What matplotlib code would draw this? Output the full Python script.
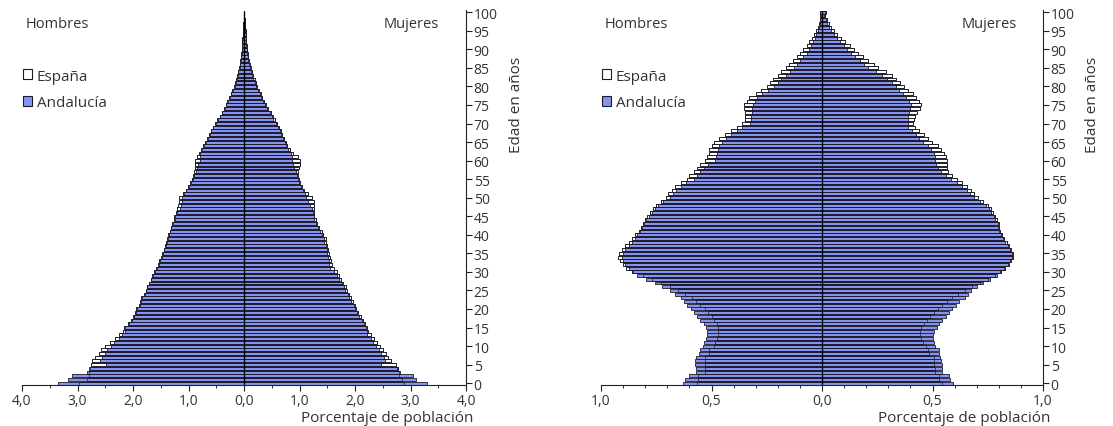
import matplotlib.pyplot as plt
from matplotlib.patches import Patch
from matplotlib.ticker import MultipleLocator, FuncFormatter

plt.rcParams['font.family'] = ['Open Sans', 'DejaVu Sans']

edades = list(range(101))

# grafico izquierdo: porcentaje por edad simple
esp_h1 = [2.97, 2.82, 2.80, 2.80, 2.78, 2.76, 2.74, 2.68, 2.62, 2.57,
          2.50, 2.42, 2.33, 2.25, 2.18, 2.16, 2.09, 2.03, 2.00, 1.96,
          1.94, 1.90, 1.87, 1.86, 1.81, 1.77, 1.75, 1.72, 1.68, 1.65,
          1.63, 1.58, 1.55, 1.53, 1.50, 1.47, 1.45, 1.43, 1.41, 1.39,
          1.37, 1.34, 1.32, 1.30, 1.27, 1.26, 1.22, 1.20, 1.19, 1.17,
          1.17, 1.10, 1.05, 1.01, 0.97, 0.94, 0.92, 0.90, 0.89, 0.89,
          0.88, 0.84, 0.81, 0.77, 0.73, 0.70, 0.66, 0.63, 0.60, 0.56,
          0.52, 0.48, 0.44, 0.40, 0.36, 0.33, 0.30, 0.27, 0.24, 0.21,
          0.18, 0.16, 0.14, 0.12, 0.10, 0.09, 0.08, 0.07, 0.06, 0.05,
          0.045, 0.04, 0.035, 0.03, 0.025, 0.02, 0.015, 0.012, 0.009, 0.006, 0.004]
and_h1 = [3.36, 3.18, 3.10, 2.82, 2.80, 2.48, 2.60, 2.56, 2.50, 2.46,
          2.40, 2.34, 2.26, 2.20, 2.15, 2.15, 2.08, 2.02, 1.99, 1.94,
          1.93, 1.88, 1.86, 1.84, 1.79, 1.76, 1.74, 1.71, 1.67, 1.64,
          1.61, 1.56, 1.54, 1.52, 1.48, 1.46, 1.44, 1.41, 1.39, 1.37,
          1.35, 1.33, 1.31, 1.28, 1.25, 1.24, 1.21, 1.16, 1.14, 1.12,
          1.11, 1.08, 1.04, 0.99, 0.96, 0.92, 0.90, 0.87, 0.84, 0.82,
          0.80, 0.80, 0.79, 0.76, 0.72, 0.69, 0.65, 0.62, 0.59, 0.55,
          0.51, 0.47, 0.43, 0.39, 0.35, 0.32, 0.29, 0.26, 0.23, 0.20,
          0.17, 0.15, 0.13, 0.11, 0.10, 0.08, 0.07, 0.06, 0.05, 0.04,
          0.04, 0.035, 0.03, 0.025, 0.02, 0.018, 0.013, 0.010, 0.008, 0.005, 0.003]
esp_m1 = [2.89, 2.85, 2.80, 2.80, 2.77, 2.74, 2.65, 2.60, 2.55, 2.50,
          2.45, 2.40, 2.35, 2.28, 2.24, 2.22, 2.18, 2.15, 2.10, 2.06,
          2.02, 2.00, 1.96, 1.93, 1.90, 1.86, 1.83, 1.79, 1.75, 1.71,
          1.67, 1.62, 1.58, 1.56, 1.55, 1.53, 1.51, 1.50, 1.48, 1.47,
          1.43, 1.40, 1.36, 1.32, 1.29, 1.27, 1.26, 1.27, 1.27, 1.26,
          1.22, 1.16, 1.09, 1.04, 1.01, 0.99, 0.97, 0.98, 0.99, 1.00,
          1.00, 0.97, 0.89, 0.82, 0.78, 0.75, 0.72, 0.69, 0.66, 0.63,
          0.59, 0.55, 0.52, 0.48, 0.44, 0.40, 0.36, 0.33, 0.30, 0.27,
          0.24, 0.21, 0.19, 0.16, 0.14, 0.12, 0.10, 0.09, 0.08, 0.07,
          0.06, 0.05, 0.045, 0.04, 0.035, 0.03, 0.02, 0.015, 0.01, 0.007, 0.005]
and_m1 = [3.29, 3.10, 3.04, 2.81, 2.75, 2.46, 2.54, 2.52, 2.47, 2.43,
          2.38, 2.32, 2.28, 2.22, 2.21, 2.20, 2.16, 2.12, 2.08, 2.03,
          2.00, 1.98, 1.93, 1.90, 1.88, 1.82, 1.80, 1.76, 1.72, 1.68,
          1.63, 1.55, 1.54, 1.53, 1.52, 1.50, 1.49, 1.47, 1.45, 1.44,
          1.40, 1.37, 1.34, 1.30, 1.27, 1.26, 1.25, 1.22, 1.19, 1.16,
          1.12, 1.10, 1.06, 1.02, 0.99, 0.97, 0.95, 0.93, 0.90, 0.88,
          0.87, 0.86, 0.84, 0.80, 0.76, 0.73, 0.70, 0.67, 0.64, 0.61,
          0.57, 0.53, 0.50, 0.46, 0.42, 0.38, 0.34, 0.31, 0.28, 0.25,
          0.22, 0.19, 0.17, 0.15, 0.13, 0.11, 0.09, 0.08, 0.07, 0.06,
          0.05, 0.045, 0.04, 0.035, 0.03, 0.025, 0.018, 0.013, 0.009, 0.006, 0.004]

# grafico derecho
esp_h2 = [0.565, 0.56, 0.56, 0.53, 0.53, 0.53, 0.53, 0.53, 0.51, 0.51,
          0.49, 0.485, 0.475, 0.47, 0.47, 0.47, 0.475, 0.49, 0.50, 0.515,
          0.53, 0.55, 0.57, 0.59, 0.62, 0.65, 0.69, 0.73, 0.77, 0.81,
          0.86, 0.885, 0.90, 0.915, 0.925, 0.92, 0.905, 0.89, 0.875, 0.86,
          0.845, 0.83, 0.82, 0.81, 0.80, 0.79, 0.78, 0.765, 0.75, 0.73,
          0.707, 0.695, 0.68, 0.665, 0.64, 0.61, 0.60, 0.58, 0.565, 0.55,
          0.53, 0.52, 0.51, 0.51, 0.50, 0.49, 0.465, 0.44, 0.41, 0.385,
          0.36, 0.35, 0.35, 0.35, 0.355, 0.352, 0.34, 0.33, 0.30, 0.275,
          0.25, 0.235, 0.22, 0.20, 0.185, 0.165, 0.15, 0.13, 0.115, 0.10,
          0.084, 0.07, 0.058, 0.045, 0.035, 0.028, 0.02, 0.015, 0.01, 0.008, 0.01]
and_h2 = [0.63, 0.62, 0.60, 0.57, 0.57, 0.573, 0.573, 0.57, 0.555, 0.55,
          0.54, 0.535, 0.525, 0.52, 0.52, 0.525, 0.535, 0.55, 0.565, 0.58,
          0.595, 0.61, 0.625, 0.64, 0.665, 0.69, 0.725, 0.757, 0.796, 0.835,
          0.855, 0.875, 0.89, 0.90, 0.905, 0.90, 0.89, 0.875, 0.86, 0.845,
          0.835, 0.825, 0.815, 0.805, 0.795, 0.785, 0.77, 0.755, 0.74, 0.72,
          0.687, 0.675, 0.66, 0.64, 0.615, 0.58, 0.565, 0.55, 0.535, 0.515,
          0.484, 0.48, 0.475, 0.47, 0.465, 0.453, 0.435, 0.41, 0.385, 0.36,
          0.325, 0.32, 0.32, 0.315, 0.315, 0.31, 0.305, 0.295, 0.27, 0.245,
          0.215, 0.20, 0.185, 0.165, 0.145, 0.126, 0.115, 0.10, 0.085, 0.07,
          0.06, 0.05, 0.04, 0.032, 0.025, 0.02, 0.015, 0.011, 0.008, 0.006, 0.008]
esp_m2 = [0.545, 0.53, 0.53, 0.51, 0.51, 0.505, 0.505, 0.505, 0.485, 0.48,
          0.47, 0.455, 0.45, 0.445, 0.445, 0.45, 0.46, 0.475, 0.49, 0.505,
          0.525, 0.545, 0.565, 0.59, 0.615, 0.645, 0.68, 0.715, 0.75, 0.785,
          0.81, 0.83, 0.845, 0.855, 0.865, 0.865, 0.855, 0.845, 0.835, 0.825,
          0.815, 0.805, 0.80, 0.80, 0.79, 0.785, 0.775, 0.765, 0.75, 0.73,
          0.707, 0.69, 0.675, 0.655, 0.635, 0.61, 0.59, 0.57, 0.565, 0.565,
          0.564, 0.56, 0.55, 0.54, 0.525, 0.497, 0.48, 0.46, 0.44, 0.42,
          0.41, 0.415, 0.42, 0.43, 0.445, 0.45, 0.44, 0.425, 0.41, 0.39,
          0.372, 0.355, 0.335, 0.315, 0.29, 0.255, 0.235, 0.21, 0.185, 0.165,
          0.146, 0.125, 0.105, 0.085, 0.068, 0.053, 0.04, 0.03, 0.021, 0.014, 0.02]
and_m2 = [0.595, 0.58, 0.575, 0.545, 0.545, 0.545, 0.54, 0.535, 0.53, 0.528,
          0.51, 0.505, 0.50, 0.50, 0.505, 0.52, 0.53, 0.545, 0.56, 0.575,
          0.59, 0.605, 0.62, 0.645, 0.66, 0.675, 0.70, 0.73, 0.76, 0.79,
          0.805, 0.825, 0.84, 0.85, 0.86, 0.86, 0.85, 0.84, 0.83, 0.82,
          0.81, 0.80, 0.795, 0.795, 0.785, 0.78, 0.765, 0.755, 0.74, 0.715,
          0.688, 0.67, 0.655, 0.635, 0.61, 0.583, 0.56, 0.54, 0.525, 0.515,
          0.512, 0.51, 0.505, 0.495, 0.48, 0.458, 0.44, 0.425, 0.405, 0.39,
          0.388, 0.39, 0.39, 0.395, 0.40, 0.403, 0.395, 0.38, 0.365, 0.35,
          0.333, 0.315, 0.295, 0.27, 0.245, 0.21, 0.19, 0.17, 0.15, 0.13,
          0.115, 0.098, 0.082, 0.067, 0.053, 0.042, 0.032, 0.024, 0.017, 0.011, 0.015]

AZUL = '#8494f2'
BORDE = '#1e1a28'
TXT = '#333333'


def coma(v, pos):
    return ('%.1f' % abs(v)).replace('.', ',')


def piramide(ax, eh, ah, em, am, lim, paso, menor):
    neg_eh = [-v for v in eh]
    neg_ah = [-v for v in ah]
    for datos_e, datos_a in ((neg_eh, neg_ah), (em, am)):
        ax.barh(edades, datos_e, height=0.8, color='white', edgecolor=BORDE, linewidth=0.6)
        ax.barh(edades, datos_a, height=0.8, color=AZUL, edgecolor=BORDE, linewidth=0.6)
        ax.barh(edades, datos_e, height=0.8, color='none', edgecolor=BORDE, linewidth=0.5)
    ax.axvline(0, color='black', linewidth=1.0, ymax=0.995)
    ax.set_xlim(-lim, lim)
    ax.set_ylim(-0.5, 100.6)
    for s in ('top', 'left'):
        ax.spines[s].set_visible(False)
    for s in ('bottom', 'right'):
        ax.spines[s].set_color('#222222')
        ax.spines[s].set_linewidth(0.8)
    ax.xaxis.set_major_locator(MultipleLocator(paso))
    ax.xaxis.set_minor_locator(MultipleLocator(menor))
    ax.xaxis.set_major_formatter(FuncFormatter(coma))
    ax.yaxis.set_major_locator(MultipleLocator(5))
    ax.yaxis.tick_right()
    ax.tick_params(axis='both', which='major', length=4, width=0.8, colors='#222222',
                   labelcolor=TXT, labelsize=10, pad=1.5)
    ax.tick_params(axis='x', which='minor', length=2.5, width=0.7, colors='#222222')
    ax.tick_params(axis='y', which='minor', length=0)
    ax.text(0.009, 0.965, 'Hombres', transform=ax.transAxes, fontsize=10.5,
            color=TXT, va='center', ha='left')
    ax.text(0.94, 0.965, 'Mujeres', transform=ax.transAxes, fontsize=10.5,
            color=TXT, va='center', ha='right')
    ax.text(1.016, -0.097, 'Porcentaje de población', transform=ax.transAxes,
            fontsize=11, color=TXT, va='baseline', ha='right')
    ax.text(1.113, 0.75, 'Edad en años', transform=ax.transAxes, fontsize=11,
            color=TXT, va='center', ha='center', rotation=90)
    manejadores = [Patch(facecolor='white', edgecolor=BORDE, linewidth=0.8, label='España'),
                   Patch(facecolor=AZUL, edgecolor=BORDE, linewidth=0.8, label='Andalucía')]
    ax.legend(handles=manejadores, loc='upper left', bbox_to_anchor=(-0.012, 0.86),
              frameon=False, handlelength=0.6, handleheight=0.6, handletextpad=0.3,
              labelspacing=0.75, fontsize=11, labelcolor=TXT, borderaxespad=0)


fig = plt.figure(figsize=(11.13, 4.27), dpi=100)
ax1 = fig.add_axes([22 / 1113, 1 - 386 / 427, 444 / 1113, 375 / 427])
ax2 = fig.add_axes([601 / 1113, 1 - 386 / 427, 442 / 1113, 375 / 427])

piramide(ax1, esp_h1, and_h1, esp_m1, and_m1, 4.0, 1.0, 0.5)
piramide(ax2, esp_h2, and_h2, esp_m2, and_m2, 1.0, 0.5, 0.1)

fig.savefig('out.png', dpi=100)
